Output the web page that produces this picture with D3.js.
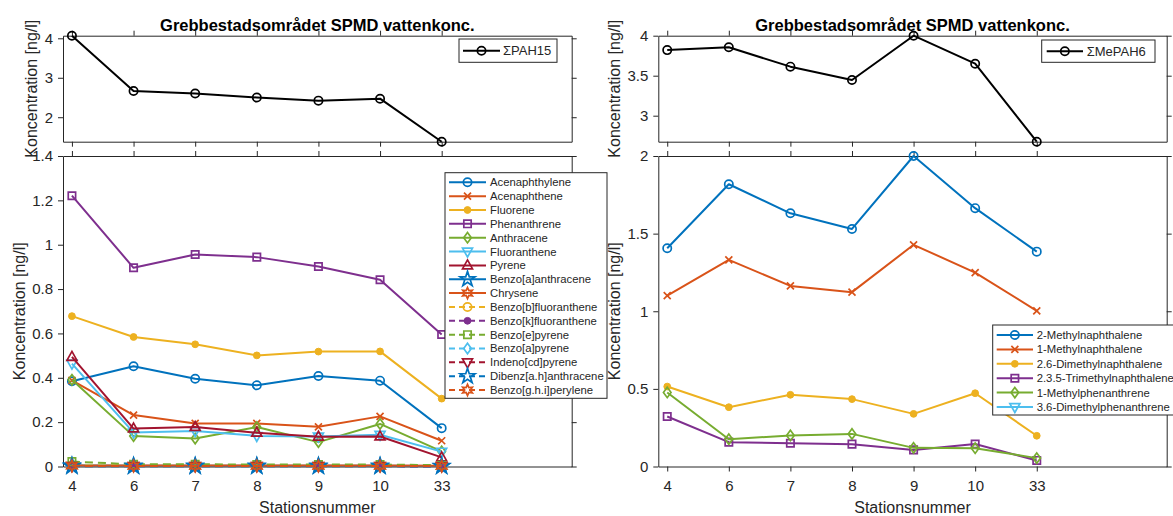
<!DOCTYPE html>
<html><head><meta charset="utf-8">
<script src="https://cdn.jsdelivr.net/npm/d3@7"></script>
<style>
body{margin:0;background:#fff}
svg text{font-family:"Liberation Sans",Arial,Helvetica,sans-serif}
</style>
</head><body>
<svg id="chart" width="1173" height="516"></svg>
<script>
// ---------------- DATA ----------------
const stations = ["4","6","7","8","9","10","33"];
const titleText = "Grebbestadsområdet SPMD vattenkonc.";
const yLabelText = "Koncentration [ng/l]";
const xLabelText = "Stationsnummer";

const sumPAH15  = [4.066, 2.666, 2.600, 2.500, 2.420, 2.470, 1.380];
const sumMePAH6 = [3.820, 3.855, 3.613, 3.446, 4.000, 3.650, 2.675];

const pahNames = ["Acenaphthylene","Acenaphthene","Fluorene","Phenanthrene","Anthracene",
  "Fluoranthene","Pyrene","Benzo[a]anthracene","Chrysene","Benzo[b]fluoranthene",
  "Benzo[k]fluoranthene","Benzo[e]pyrene","Benzo[a]pyrene","Indeno[cd]pyrene",
  "Dibenz[a.h]anthracene","Benzo[g.h.i]perylene"];
const acenaphthylene   = [0.384, 0.452, 0.396, 0.366, 0.408, 0.387, 0.173];
const acenaphthene     = [0.388, 0.232, 0.194, 0.194, 0.179, 0.226, 0.116];
const fluorene         = [0.678, 0.584, 0.551, 0.501, 0.518, 0.519, 0.306];
const phenanthrene     = [1.221, 0.896, 0.956, 0.944, 0.902, 0.842, 0.595];
const anthracene       = [0.391, 0.137, 0.126, 0.178, 0.110, 0.192, 0.068];
const fluoranthene     = [0.464, 0.153, 0.160, 0.138, 0.135, 0.143, 0.067];
const pyrene           = [0.494, 0.171, 0.178, 0.152, 0.134, 0.135, 0.041];
const benzoAanthracene = [0.004, 0.003, 0.003, 0.003, 0.003, 0.003, 0.002];
const chrysene         = [0.005, 0.004, 0.004, 0.004, 0.004, 0.004, 0.003];
const benzoBfluoranth  = [0.006, 0.004, 0.004, 0.004, 0.004, 0.004, 0.003];
const benzoKfluoranth  = [0.002, 0.002, 0.002, 0.002, 0.002, 0.002, 0.001];
const benzoEpyrene     = [0.022, 0.010, 0.010, 0.009, 0.009, 0.009, 0.006];
const benzoApyrene     = [0.004, 0.002, 0.002, 0.002, 0.002, 0.002, 0.001];
const indenoPyrene     = [0.002, 0.002, 0.002, 0.002, 0.002, 0.002, 0.001];
const dibenzAnthracene = [0.001, 0.001, 0.001, 0.001, 0.001, 0.001, 0.001];
const benzoGHIperylene = [0.003, 0.002, 0.002, 0.002, 0.002, 0.002, 0.002];

const mepahNames = ["2-Methylnaphthalene","1-Methylnaphthalene","2.6-Dimethylnaphthalene",
  "2.3.5-Trimethylnaphthalene","1-Methylphenanthrene","3.6-Dimethylphenanthrene"];
const methylNaph2      = [1.406, 1.818, 1.631, 1.530, 2.000, 1.664, 1.384];
const methylNaph1      = [1.101, 1.331, 1.163, 1.123, 1.428, 1.249, 1.003];
const dimethylNaph26   = [0.515, 0.382, 0.462, 0.434, 0.339, 0.472, 0.198];
const trimethylNaph235 = [0.322, 0.157, 0.150, 0.144, 0.107, 0.145, 0.039];
const methylPhen1      = [0.477, 0.176, 0.200, 0.210, 0.120, 0.118, 0.054];
const dimethylPhen36   = [null, null, null, null, null, null, null];

const yTicksTopL = [2, 3, 4];
const yTicksTopR = [3, 3.5, 4];
const yTicksBotL = [0, 0.2, 0.4, 0.6, 0.8, 1, 1.2, 1.4];
const yTicksBotR = [0, 0.5, 1, 1.5, 2];

// ---------------- STYLE ----------------
const colors = ["#0072BD","#D95319","#EDB120","#7E2F8E","#77AC30","#4DBEEE","#A2142F"];
const pahMarkers = ["o","x",".","s","d","v","^","p","h","o",".","s","d","v","p","h"];
const pahSeries = [acenaphthylene,acenaphthene,fluorene,phenanthrene,anthracene,fluoranthene,
  pyrene,benzoAanthracene,chrysene,benzoBfluoranth,benzoKfluoranth,benzoEpyrene,benzoApyrene,
  indenoPyrene,dibenzAnthracene,benzoGHIperylene];
const mepahSeries = [methylNaph2,methylNaph1,dimethylNaph26,trimethylNaph235,methylPhen1,dimethylPhen36];
const mepahMarkers = ["o","x",".","s","d","v"];

const axisColor = "#262626";
const svg = d3.select("#chart");
const idx = stations.map((s,i)=>i+1);

function markerPath(t){
  switch(t){
    case "o": return d3.symbol(d3.symbolCircle, 54)();
    case ".": return d3.symbol(d3.symbolCircle, 36)();
    case "s": return d3.symbol(d3.symbolSquare, 54)();
    case "p": return d3.symbol(d3.symbolStar, 70)();
    case "d": return "M0,-5.2L3.8,0L0,5.2L-3.8,0Z";
    case "^": return "M0,-5.5L5,3.4L-5,3.4Z";
    case "v": return "M0,5.5L5,-3.4L-5,-3.4Z";
    case "x": return "M-3.5,-3.5L3.5,3.5M-3.5,3.5L3.5,-3.5";
    case "h": {
      const pts=[]; for(let k=0;k<12;k++){const r=k%2?2.8:5.6;const a=-Math.PI/2+k*Math.PI/6;pts.push([r*Math.cos(a),r*Math.sin(a)]);}
      return "M"+pts.map(p=>p[0].toFixed(2)+","+p[1].toFixed(2)).join("L")+"Z";
    }
  }
}
function drawMarker(g, t, color, cx, cy){
  g.append("path").attr("d", markerPath(t)).attr("transform",`translate(${cx},${cy})`)
    .attr("fill", t==="." ? color : "none").attr("stroke", color)
    .attr("stroke-width", t==="." ? 1 : 1.7);
}

function styleAxis(sel, fs){
  sel.selectAll(".domain").attr("stroke", axisColor).attr("stroke-width",1);
  sel.selectAll(".tick line").attr("stroke", axisColor).attr("stroke-width",1);
  sel.selectAll(".tick text").attr("fill", axisColor).attr("font-size", fs)
     .attr("font-family",'"Liberation Sans",Arial,sans-serif');
  sel.attr("font-size", fs);
}

function drawAxes(x, y, yTicks, showX, yFmt){
  const [x0,x1] = x.range(), [yb,yt] = y.range();
  const gb = svg.append("g").attr("transform",`translate(0,${yb})`)
    .call(d3.axisBottom(x).tickValues(idx).tickFormat(showX ? (d=>stations[d-1]) : (()=>""))
      .tickSize(5).tickSizeOuter(0).tickPadding(9));
  styleAxis(gb, 15);
  const gt = svg.append("g").attr("transform",`translate(0,${yt})`)
    .call(d3.axisTop(x).tickValues(idx).tickFormat(()=>"").tickSize(5).tickSizeOuter(0));
  styleAxis(gt, 15);
  const gl = svg.append("g").attr("transform",`translate(${x0},0)`)
    .call(d3.axisLeft(y).tickValues(yTicks).tickFormat(yFmt).tickSize(5).tickSizeOuter(0).tickPadding(5));
  styleAxis(gl, 15);
  const gr = svg.append("g").attr("transform",`translate(${x1},0)`)
    .call(d3.axisRight(y).tickValues(yTicks).tickFormat(()=>"").tickSize(5).tickSizeOuter(0));
  styleAxis(gr, 15);
  let maxW = 0;
  gl.selectAll(".tick text").each(function(){ maxW = Math.max(maxW, this.getComputedTextLength()); });
  const bx = x0 - 10 - maxW - 7.5;
  svg.append("text").attr("transform",`translate(${bx},${(yb+yt)/2}) rotate(-90)`)
    .attr("text-anchor","middle").attr("font-size",16).attr("fill",axisColor).text(yLabelText);
}

function drawSeries(x, y, vals, color, mk, dashed, lw){
  const line = d3.line().defined(d=>d!=null).x((d,i)=>x(i+1)).y(d=>y(d));
  const g = svg.append("g");
  g.append("path").datum(vals).attr("d", line).attr("fill","none").attr("stroke", color)
    .attr("stroke-width", lw).attr("stroke-linejoin","round")
    .attr("stroke-dasharray", dashed ? "8,5" : null);
  vals.forEach((v,i)=>{ if(v!=null) drawMarker(g, mk, color, x(i+1), y(v)); });
}

function drawLegend(box, rowY0, rowStep, lineX0, lineX1, textX, fs, entries){
  const g = svg.append("g");
  g.append("rect").attr("x",box[0]).attr("y",box[1]).attr("width",box[2]-box[0]).attr("height",box[3]-box[1])
    .attr("fill","#fff").attr("stroke",axisColor).attr("stroke-width",1);
  entries.forEach((e,i)=>{
    const yy = rowY0 + i*rowStep;
    g.append("line").attr("x1",lineX0).attr("x2",lineX1).attr("y1",yy).attr("y2",yy)
      .attr("stroke",e.color).attr("stroke-width",e.lw).attr("stroke-dasharray", e.dashed ? "6,4" : null);
    drawMarker(g, e.marker, e.color, (lineX0+lineX1)/2, yy);
    g.append("text").attr("x",textX).attr("y",yy).attr("dy","0.35em").attr("font-size",fs)
      .attr("fill",axisColor).text(e.name);
  });
}

function drawTitle(x){
  const [x0,x1] = x.range();
  svg.append("text").attr("x",(x0+x1)/2).attr("y",30.5).attr("text-anchor","middle")
    .attr("font-size",16.5).attr("font-weight","bold").attr("fill","#000").text(titleText);
}

// ---------------- PANELS ----------------
const xL = d3.scaleLinear().domain([0.855, 9.11]).range([63, 571.7]);
const xR = d3.scaleLinear().domain([0.855, 9.11]).range([658.3, 1166.7]);
const topRange = [141.7, 35.7], botRange = [466.5, 156];

const yTL = d3.scaleLinear().domain(d3.extent(sumPAH15)).range(topRange);
const yTR = d3.scaleLinear().domain(d3.extent(sumMePAH6)).range(topRange);
const yBL = d3.scaleLinear().domain([0, 1.4]).range(botRange);
const yBR = d3.scaleLinear().domain([0, 2]).range(botRange);

const fmt = d3.format("~g");
drawAxes(xL, yTL, yTicksTopL, false, fmt);
drawAxes(xL, yBL, yTicksBotL, true, fmt);
drawAxes(xR, yTR, yTicksTopR, false, fmt);
drawAxes(xR, yBR, yTicksBotR, true, fmt);

[xL, xR].forEach(x=>{
  const [x0,x1]=x.range();
  svg.append("text").attr("x",(x0+x1)/2).attr("y",513).attr("text-anchor","middle")
    .attr("font-size",16).attr("fill",axisColor).text(xLabelText);
});
drawTitle(xL); drawTitle(xR);

drawSeries(xL, yTL, sumPAH15, "#000", "o", false, 2);
drawSeries(xR, yTR, sumMePAH6, "#000", "o", false, 2);

pahSeries.forEach((s,i)=> drawSeries(xL, yBL, s, colors[i%7], pahMarkers[i], i>=9, 2));
mepahSeries.forEach((s,i)=> drawSeries(xR, yBR, s, colors[i%7], mepahMarkers[i], false, 2));

drawLegend([459,39,557,62.3], 50.7, 0, 463, 500, 503, 13, [{name:"ΣPAH15", color:"#000", marker:"o", lw:2}]);
drawLegend([1041.7,40,1155,62.3], 51.2, 0, 1046.7, 1083, 1086.7, 13, [{name:"ΣMePAH6", color:"#000", marker:"o", lw:2}]);
drawLegend([445,172.7,607,398.3], 182.3, 13.85, 449, 486, 490, 11.3,
  pahNames.map((n,i)=>({name:n, color:colors[i%7], marker:pahMarkers[i], lw:2, dashed:i>=9})));
drawLegend([992.7,325,1190,415], 335, 14.4, 996.7, 1033, 1036.7, 11.3,
  mepahNames.map((n,i)=>({name:n, color:colors[i%7], marker:mepahMarkers[i], lw:2})));
</script>
</body></html>
